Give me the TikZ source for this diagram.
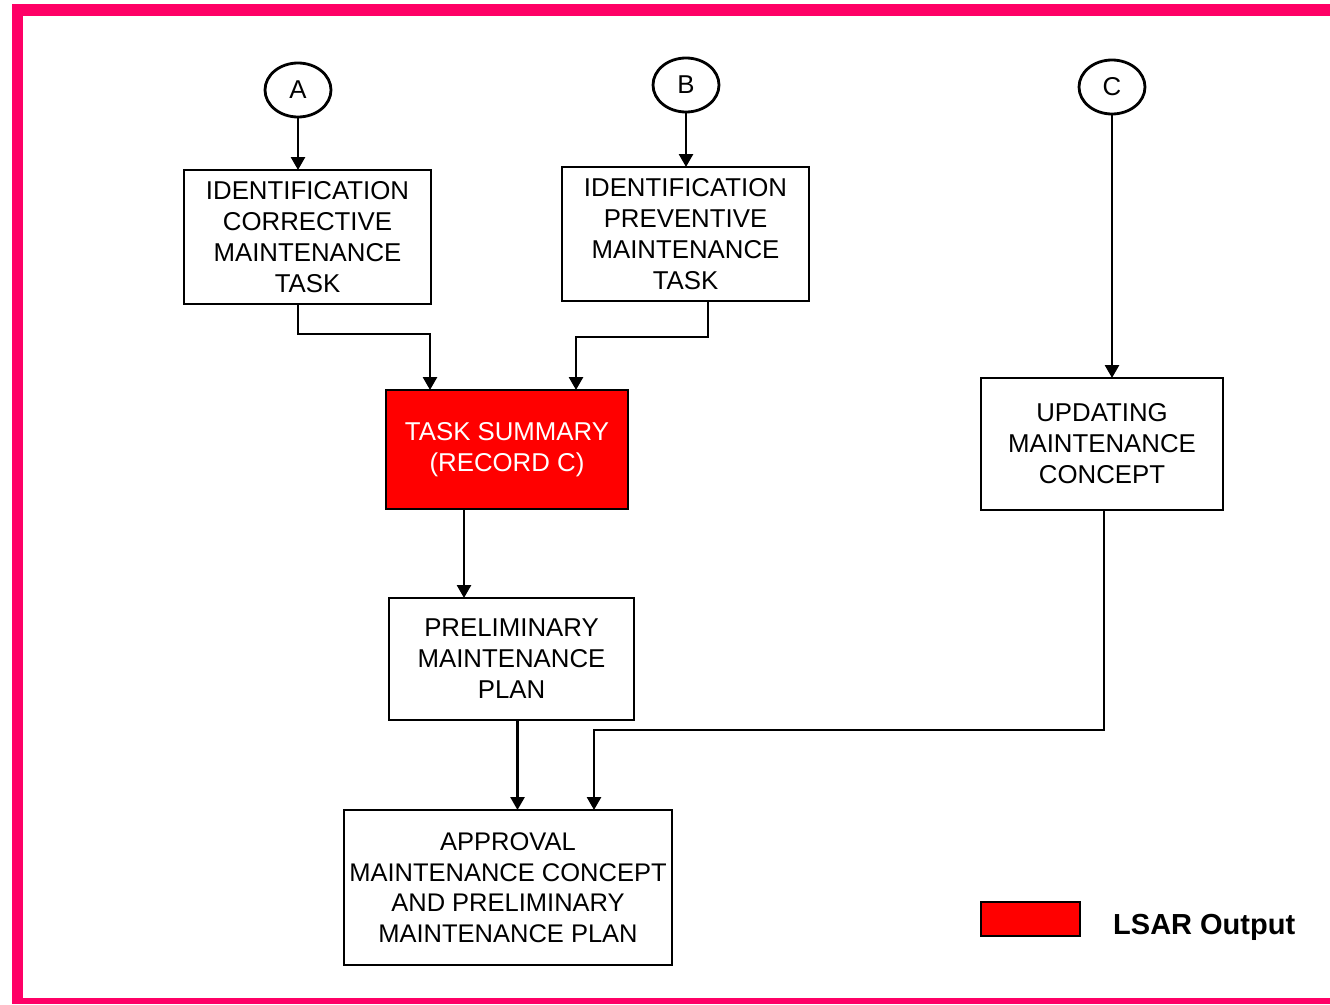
\documentclass[tikz,border=0pt]{standalone}
\usepackage{fontspec}
\setmainfont{Liberation Sans}
\usetikzlibrary{shapes.geometric,arrows.meta,calc}
\definecolor{framepink}{HTML}{FF0066}
\definecolor{lsarred}{HTML}{FF0000}
\tikzset{
  box/.style={draw=black, line width=2.8pt, rectangle, inner sep=0pt, outer sep=0pt,
    align=center, font=\fontsize{25.8}{31}\selectfont},
  conn/.style={draw=black, line width=2.8pt, ellipse, inner sep=0pt, outer sep=0pt,
    minimum width=66pt, minimum height=54pt, font=\fontsize{25.8}{31}\selectfont},
  arr/.style={line width=2.7pt, -{Triangle[length=13pt,width=14pt]}},
}
\begin{document}
\begin{tikzpicture}[x=1pt,y=-1pt]
\useasboundingbox (0,0) rectangle (1330,1004);
% frame
\fill[framepink] (11.7,4) rectangle (1330,15.6);
\fill[framepink] (11.7,4) rectangle (23,1004);
\fill[framepink] (11.7,998) rectangle (1330,1004);

% connectors
\node[conn] (A) at (298,90) {A};
\node[conn] (B) at (686,85) {B};
\node[conn] (C) at (1112,87) {C};

% boxes
\node[box, minimum width=247pt, minimum height=134pt] (c1) at (307.5,237) {IDENTIFICATION\\CORRECTIVE\\MAINTENANCE\\TASK};
\node[box, minimum width=247pt, minimum height=134pt] (c2) at (685.5,234) {IDENTIFICATION\\PREVENTIVE\\MAINTENANCE\\TASK};
\node[box, fill=lsarred, text=white, minimum width=242pt, minimum height=119pt] (ts) at (507,449.5) {TASK SUMMARY\\(RECORD C)};
\node[box, minimum width=242pt, minimum height=132pt] (umc) at (1102,444) {UPDATING\\MAINTENANCE\\CONCEPT};
\node[box, minimum width=245pt, minimum height=122pt] (pmp) at (511.5,659) {PRELIMINARY\\MAINTENANCE\\PLAN};
\node[box, font=\fontsize{25.5}{30.5}\selectfont, minimum width=328pt, minimum height=155pt] (app) at (508,887.5) {APPROVAL\\MAINTENANCE CONCEPT\\AND PRELIMINARY\\MAINTENANCE PLAN};

% arrows
\draw[arr] (A.south) -- (A.south |- c1.north);
\draw[arr] (B.south) -- (B.south |- c2.north);
\draw[arr] (C.south) -- (C.south |- umc.north);
\draw[arr] (c1.south -| A.south) -- ++(0,30) -| ($(ts.north west)+(44,0)$);
\draw[arr] ($(c2.south)+(22.5,0)$) -- ++(0,36) -| ($(ts.north west)+(190,0)$);
\draw[arr] ($(ts.south)+(-43,0)$) coordinate (t1) -- (t1 |- pmp.north);
\draw[arr] ($(pmp.south)+(6,0)$) coordinate (p1) -- (p1 |- app.north);
\draw[arr] ($(umc.south)+(2,0)$) -- ++(0,220) -| ($(app.north west)+(250,0)$);

% legend
\node[draw=black, line width=2.6pt, fill=lsarred, minimum width=99pt, minimum height=34pt, inner sep=0pt] (leg) at (1030.5,919) {};
\node[anchor=west, inner sep=0pt, font=\fontsize{29}{34}\selectfont\bfseries] (legtext) at (1113,927) {LSAR Output};
\end{tikzpicture}
\end{document}
